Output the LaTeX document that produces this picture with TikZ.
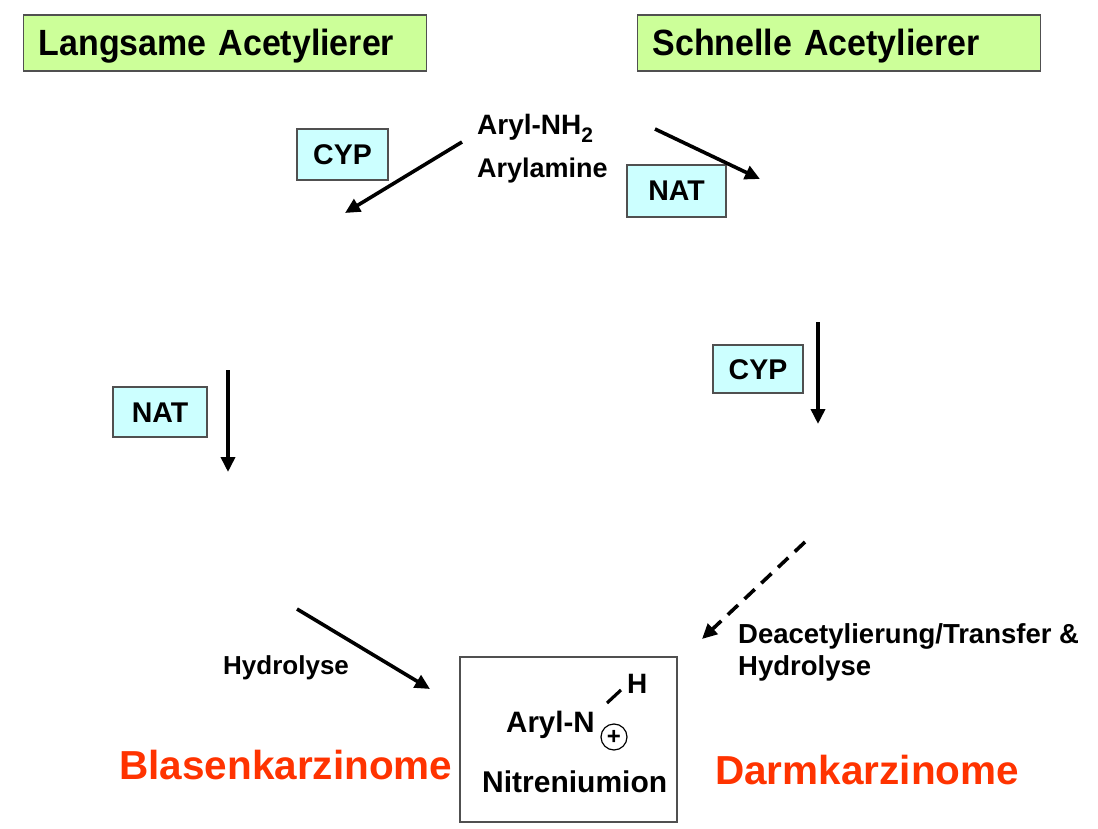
\documentclass[tikz,border=0pt]{standalone}
\usepackage{fontspec}
\setmainfont{Liberation Sans}
\newfontfamily\titlefont{Liberation Sans}[FakeStretch=0.93]
\usetikzlibrary{arrows.meta}
\definecolor{titlegreen}{HTML}{CCFF99}
\definecolor{enzblue}{HTML}{CCFFFF}
\definecolor{cancerred}{HTML}{FF3300}
\definecolor{boxgray}{HTML}{505050}
\begin{document}
\begin{tikzpicture}[x=1pt,y=-1pt,
  titlebox/.style={draw=boxgray, line width=1.3pt, fill=titlegreen, anchor=west,
    minimum height=56pt, inner xsep=15pt, inner ysep=0pt, text width=373pt, align=left,
    text height=26pt, text depth=0pt,
    font=\titlefont\bfseries\fontsize{36.5}{40}\selectfont},
  enz/.style={draw=boxgray, line width=1.3pt, fill=enzblue, inner sep=0pt,
    text height=20pt, text depth=0pt,
    font=\bfseries\fontsize{28.5}{32}\selectfont},
  lbl/.style={anchor=base west, inner sep=0pt, font=\bfseries\fontsize{26}{31}\selectfont},
  chem/.style={anchor=base west, inner sep=0pt, font=\bfseries\fontsize{30}{34}\selectfont},
  cancer/.style={anchor=base west, inner sep=0pt, text=cancerred, font=\bfseries\fontsize{40.5}{46}\selectfont},
  arr/.style={line width=3.6pt, -{Triangle[length=15pt,width=14pt]}},
  darr/.style={arr, dash pattern=on 14pt off 9pt}
]
\useasboundingbox (0,0) rectangle (1098,829);
\fill[white] (0,0) rectangle (1098,829);

% title boxes
\node[titlebox] (slow) at (23,43) {Langsame Acetylierer};
\node[titlebox] (fast) at (637,43) {Schnelle Acetylierer};

% enzyme boxes
\node[enz, minimum width=91pt, minimum height=51pt] (cyp1) at (342.5,154.5) {CYP};
\node[enz, minimum width=99pt, minimum height=52pt] (nat1) at (676.5,191) {NAT};
\node[enz, minimum width=90pt, minimum height=48pt] (cyp2) at (758,369) {CYP};
\node[enz, minimum width=94pt, minimum height=50pt] (nat2) at (160,412) {NAT};

% texts
\node[chem, font=\bfseries\fontsize{28}{32}\selectfont] (aryl) at (477,135)
  {Aryl-NH\raisebox{-8pt}{\fontsize{21}{24}\selectfont 2}};
\node[lbl, font=\bfseries\fontsize{27}{31}\selectfont] (arylamine) at (477,178) {Arylamine};
\node[lbl] (hydro1) at (223,674) {Hydrolyse};
\node[lbl, align=left, anchor=north west, font=\bfseries\fontsize{27.5}{32}\selectfont]
  (deacet) at (738,623) {Deacetylierung/Transfer \&\\Hydrolyse};
\node[cancer] (blase) at (119,779) {Blasenkarzinome};
\node[cancer] (darm) at (715,784) {Darmkarzinome};

% nitrenium box
\node[draw=boxgray, line width=1.3pt, minimum width=217pt, minimum height=165pt, inner sep=0pt]
  (nbox) at (568.5,739.5) {};
\node[chem, font=\bfseries\fontsize{29.5}{32}\selectfont] (arylN) at (506,732) {Aryl-N};
\node[chem, font=\bfseries\fontsize{28}{32}\selectfont] (hatom) at (627,693) {H};
\node[chem] (nitr) at (482,792) {Nitreniumion};
\node[circle, draw=black, line width=1.2pt, minimum size=26pt, inner sep=0pt,
  font=\bfseries\fontsize{24}{26}\selectfont] (plus) at (614,737) {+};
\coordinate (bondA) at (607,703);
\coordinate (bondB) at (621,690);
\draw[line width=3.2pt] (bondA) -- (bondB);

% arrows
\coordinate (a1s) at (462,142); \coordinate (a1e) at (345,213);
\coordinate (a2s) at (655,129); \coordinate (a2e) at (760,179);
\coordinate (a3s) at (818,322); \coordinate (a3e) at (818,424);
\coordinate (a4s) at (228,370); \coordinate (a4e) at (228,472);
\coordinate (a5s) at (297,609); \coordinate (a5e) at (430,689);
\coordinate (a6s) at (805,542); \coordinate (a6e) at (702,639);
\draw[arr] (a1s) -- (a1e);
\draw[arr] (a2s) -- (a2e);
\draw[arr] (a3s) -- (a3e);
\draw[arr] (a4s) -- (a4e);
\draw[arr] (a5s) -- (a5e);
\draw[darr] (a6s) -- (a6e);
\end{tikzpicture}
\end{document}
